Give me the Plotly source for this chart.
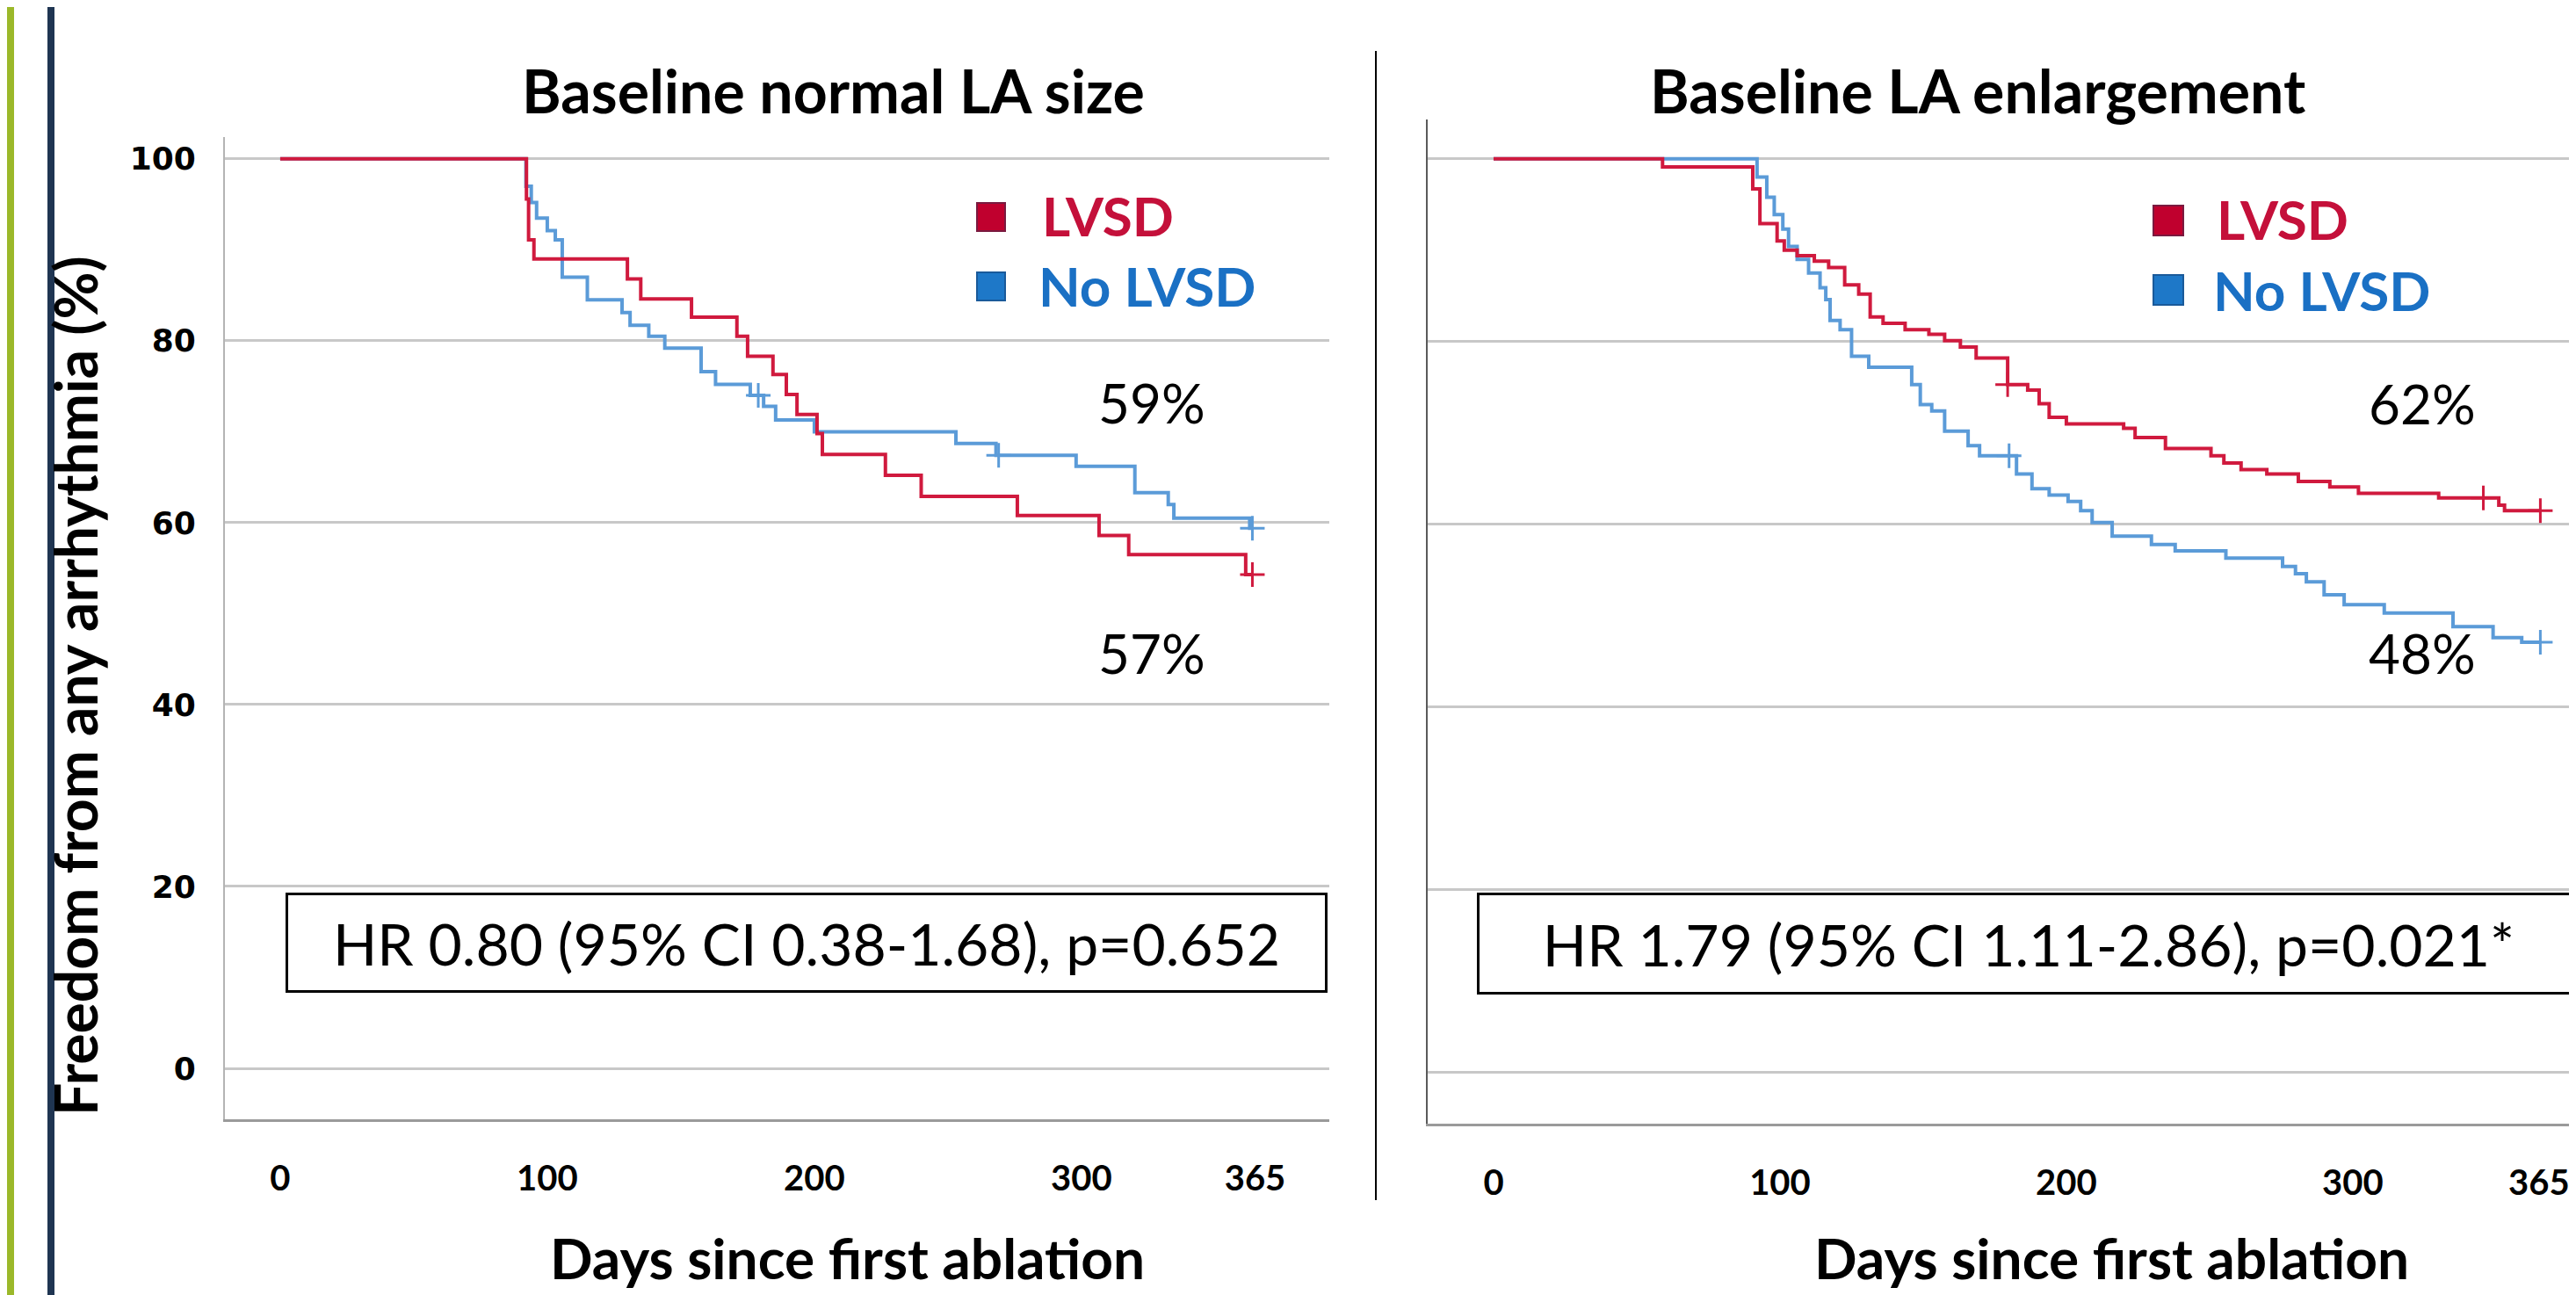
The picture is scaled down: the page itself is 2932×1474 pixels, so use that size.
import plotly.graph_objects as go

W, H = 2932, 1474

# ---------------- data ----------------
# Left panel: Baseline normal LA size
left_lvsd_days = [0, 92.2, 93, 95, 130, 135, 154, 171, 175, 184.5, 189.5, 193.5, 201, 203,
                  226.6, 240, 276, 306.6, 317.7, 361.5, 364]
left_lvsd_surv = [100, 95.6, 91.1, 89.0, 86.8, 84.6, 82.6, 80.5, 78.3, 76.3, 74.1, 71.9, 69.8, 67.5,
                  65.2, 62.9, 60.8, 58.6, 56.5, 54.3, 54.3]
left_lvsd_cens_days = [364]
left_lvsd_cens_surv = [54.3]

left_nolvsd_days = [0, 92, 94, 96, 100, 103, 105.6, 115, 128, 131, 138, 144, 157.6, 163, 176, 181,
                    185.5, 200, 253, 268, 298, 320, 332.5, 334.6, 363, 364]
left_nolvsd_surv = [100, 97.0, 95.2, 93.5, 92.1, 91.1, 87.0, 84.5, 83.1, 81.7, 80.5, 79.2, 76.6, 75.2,
                    74.0, 72.8, 71.3, 70.0, 68.7, 67.4, 66.2, 63.3, 62.0, 60.5, 59.4, 59.4]
left_nolvsd_cens_days = [179, 269, 364]
left_nolvsd_cens_surv = [74.0, 67.4, 59.4]

# Right panel: Baseline LA enlargement
right_lvsd_days = [0, 59, 90.5, 93, 99, 101.5, 106, 112, 117, 122.6, 127.5, 131.5, 136, 143.7, 152,
                   157.5, 163, 168.5, 179.5, 186.5, 190.5, 194, 200, 220, 224, 234.6, 250.5, 255,
                   261, 270, 281, 292, 302, 330, 351, 353, 365.5]
right_lvsd_surv = [100, 99.1, 96.7, 92.9, 91.0, 90.0, 89.4, 88.8, 88.1, 86.2, 85.2, 82.7, 82.0, 81.3,
                   80.8, 80.1, 79.4, 78.2, 75.3, 74.7, 73.2, 71.7, 71.0, 70.5, 69.5, 68.3, 67.5, 66.7,
                   66.0, 65.5, 64.7, 64.1, 63.4, 62.9, 62.1, 61.5, 61.5]
right_lvsd_cens_days = [179.5, 345.6, 365.5]
right_lvsd_cens_surv = [75.3, 62.9, 61.5]

right_nolvsd_days = [0, 92, 95.4, 98, 101, 103, 106, 110, 114, 116, 117.5, 121, 125, 131, 146, 149,
                     153, 157.5, 165.7, 169.7, 182.6, 188, 194, 200.6, 205, 209, 216, 229.7, 238,
                     255.7, 275.5, 280, 283.8, 290, 297, 311, 335, 349, 359, 365.5]
right_nolvsd_surv = [100, 98.0, 95.8, 93.9, 92.3, 90.4, 89.0, 87.5, 85.9, 84.6, 82.3, 81.3, 78.4,
                     77.2, 75.3, 73.1, 72.4, 70.2, 68.6, 67.5, 65.5, 63.9, 63.2, 62.5, 61.5, 60.2,
                     58.7, 57.8, 57.1, 56.3, 55.4, 54.6, 53.7, 52.3, 51.2, 50.3, 48.8, 47.6, 47.1,
                     47.1]
right_nolvsd_cens_days = [180, 365.5]
right_nolvsd_cens_surv = [67.5, 47.1]

x_tick_vals = [0, 100, 200, 300, 365]
x_tick_text = ["0", "100", "200", "300", "365"]
y_tick_vals = [0, 20, 40, 60, 80, 100]
y_tick_text = ["0", "20", "40", "60", "80", "100"]

panel_titles = ["Baseline normal LA size", "Baseline LA enlargement"]
series_names = ["LVSD", "No LVSD"]
hr_texts = ["HR 0.80 (95% CI 0.38-1.68), p=0.652", "HR 1.79 (95% CI 1.11-2.86), p=0.021*"]
pct_left = ["59%", "57%"]
pct_right = ["62%", "48%"]
x_title = "Days since first ablation"
y_title = "Freedom from any arrhythmia (%)"

# ---------------- styles ----------------
RED_LINE = "#D01A3E"
BLUE_LINE = "#5B9BD8"
RED_TXT = "#C4103A"
BLUE_TXT = "#1A70C4"
RED_SQ = "#C0002E"
BLUE_SQ = "#1E78C8"


def px(x):
    return x / W


def py(y):
    return 1 - y / H


fig = go.Figure()


def add_panel(xa, ya, d_red, s_red, cd_red, cs_red, d_blue, s_blue, cd_blue, cs_blue):
    fig.add_trace(go.Scatter(x=d_blue, y=s_blue, mode="lines", line=dict(color=BLUE_LINE, width=4, shape="hv"),
                             xaxis=xa, yaxis=ya, showlegend=False, name="No LVSD"))
    fig.add_trace(go.Scatter(x=cd_blue, y=cs_blue, mode="markers",
                             marker=dict(symbol="cross-thin", size=20, line=dict(color=BLUE_LINE, width=3)),
                             xaxis=xa, yaxis=ya, showlegend=False, name="No LVSD censored"))
    fig.add_trace(go.Scatter(x=d_red, y=s_red, mode="lines", line=dict(color=RED_LINE, width=4, shape="hv"),
                             xaxis=xa, yaxis=ya, showlegend=False, name="LVSD"))
    fig.add_trace(go.Scatter(x=cd_red, y=cs_red, mode="markers",
                             marker=dict(symbol="cross-thin", size=20, line=dict(color=RED_LINE, width=3)),
                             xaxis=xa, yaxis=ya, showlegend=False, name="LVSD censored"))


add_panel("x", "y", left_lvsd_days, left_lvsd_surv, left_lvsd_cens_days, left_lvsd_cens_surv,
          left_nolvsd_days, left_nolvsd_surv, left_nolvsd_cens_days, left_nolvsd_cens_surv)
add_panel("x2", "y2", right_lvsd_days, right_lvsd_surv, right_lvsd_cens_days, right_lvsd_cens_surv,
          right_nolvsd_days, right_nolvsd_surv, right_nolvsd_cens_days, right_nolvsd_cens_surv)

xtickfont = dict(family="Liberation Sans Narrow, Lato, sans-serif", size=40, color="black", weight="bold")
ytickfont = dict(family="DejaVu Sans, sans-serif", size=36, color="black", weight="bold")

common_x = dict(tickmode="array", tickvals=x_tick_vals, ticktext=x_tick_text, tickfont=xtickfont,
                showgrid=False, zeroline=False, showline=True, linecolor="#9A9A9A", linewidth=3,
                ticks="", ticklabelstandoff=30, fixedrange=True)

fig.update_layout(
    width=W, height=H, margin=dict(l=0, r=0, t=0, b=0),
    paper_bgcolor="white", plot_bgcolor="white", showlegend=False,
    xaxis=dict(domain=[px(248), px(1505)], range=[-20.7, 392.8], anchor="y", **common_x),
    yaxis=dict(domain=[py(1266), py(148)], range=[-5.6, 102.4], anchor="x",
               tickmode="array", tickvals=y_tick_vals, ticktext=y_tick_text, tickfont=ytickfont,
               showgrid=True, gridcolor="#C8C8C8", gridwidth=3, zeroline=False,
               showline=True, linecolor="#B4B4B4", linewidth=2, ticks="", ticklabelstandoff=24),
    xaxis2=dict(domain=[px(1617), px(2931)], range=[-23.0, 380.1], anchor="y2", **common_x),
    yaxis2=dict(domain=[py(1271), py(128)], range=[-5.58, 104.3], anchor="x2",
                tickmode="array", tickvals=y_tick_vals, showticklabels=False,
                showgrid=True, gridcolor="#C8C8C8", gridwidth=3, zeroline=False,
                showline=True, linecolor="#5A5A5A", linewidth=2, ticks=""),
)

shapes = [
    dict(type="rect", xref="paper", yref="paper", x0=0, x1=px(8), y0=0, y1=1,
         fillcolor="#9BB82A", line=dict(width=0), layer="above"),
    dict(type="rect", xref="paper", yref="paper", x0=px(46), x1=px(54), y0=0, y1=1,
         fillcolor="#1F3552", line=dict(width=0), layer="above"),
    dict(type="line", xref="paper", yref="paper", x0=px(1558), x1=px(1558), y0=py(50), y1=py(1358),
         line=dict(color="black", width=2)),
    # legend squares
    dict(type="rect", xref="paper", yref="paper", x0=px(1104), x1=px(1136), y0=py(255), y1=py(223),
         fillcolor=RED_SQ, line=dict(color="#7A1A40", width=2)),
    dict(type="rect", xref="paper", yref="paper", x0=px(1104), x1=px(1136), y0=py(334), y1=py(302),
         fillcolor=BLUE_SQ, line=dict(color="#1A5A9A", width=2)),
    dict(type="rect", xref="paper", yref="paper", x0=px(2443), x1=px(2477), y0=py(260), y1=py(226),
         fillcolor=RED_SQ, line=dict(color="#7A1A40", width=2)),
    dict(type="rect", xref="paper", yref="paper", x0=px(2443), x1=px(2477), y0=py(339), y1=py(305),
         fillcolor=BLUE_SQ, line=dict(color="#1A5A9A", width=2)),
]
fig.update_layout(shapes=shapes)

BOLD = dict(family="Lato, sans-serif", size=68, color="black", weight="bold")
XT = dict(family="Lato, sans-serif", size=64, color="black", weight="bold")

ann = []
# panel titles
ann.append(dict(text=panel_titles[0], x=px(940), y=py(94), font=BOLD))
ann.append(dict(text=panel_titles[1], x=px(2243), y=py(94), font=BOLD))
# axis titles
ann.append(dict(text=x_title, x=px(956), y=py(1464), yanchor="bottom", font=XT))
ann.append(dict(text=x_title, x=px(2395), y=py(1464), yanchor="bottom", font=XT))
ann.append(dict(text=y_title, x=px(77), y=py(773), textangle=-90,
                font=dict(family="Lato, sans-serif", size=66, color="black", weight="bold")))
# legends
LEGF = 62
ann.append(dict(text=series_names[0], x=px(1176), y=py(237), xanchor="left",
                font=dict(family="Lato, sans-serif", size=LEGF, color=RED_TXT, weight="bold")))
ann.append(dict(text=series_names[1], x=px(1172), y=py(317), xanchor="left",
                font=dict(family="Lato, sans-serif", size=LEGF, color=BLUE_TXT, weight="bold")))
ann.append(dict(text=series_names[0], x=px(2513), y=py(241), xanchor="left",
                font=dict(family="Lato, sans-serif", size=LEGF, color=RED_TXT, weight="bold")))
ann.append(dict(text=series_names[1], x=px(2509), y=py(322), xanchor="left",
                font=dict(family="Lato, sans-serif", size=LEGF, color=BLUE_TXT, weight="bold")))
# percentages
PCT = dict(family="Lato, sans-serif", size=62, color="black")
ann.append(dict(text=pct_left[0], x=px(1303), y=py(450), font=PCT))
ann.append(dict(text=pct_left[1], x=px(1303), y=py(735), font=PCT))
ann.append(dict(text=pct_right[0], x=px(2749), y=py(451), font=PCT))
ann.append(dict(text=pct_right[1], x=px(2749), y=py(735), font=PCT))
# HR boxes
ann.append(dict(text=hr_texts[0], x=px(910), y=py(1065), width=1180, height=108,
                bordercolor="black", borderwidth=3, borderpad=0, bgcolor="white",
                font=dict(family="Lato, sans-serif", size=66, color="black")))
ann.append(dict(text=hr_texts[1], x=px(2301), y=py(1066), width=1250, height=110,
                bordercolor="black", borderwidth=3, borderpad=0, bgcolor="white",
                font=dict(family="Lato, sans-serif", size=66, color="black")))

for a in ann:
    a.setdefault("xref", "paper")
    a.setdefault("yref", "paper")
    a.setdefault("xanchor", "center")
    a.setdefault("yanchor", "middle")
    a.setdefault("showarrow", False)
fig.update_layout(annotations=ann)

fig.write_html("out.html")
